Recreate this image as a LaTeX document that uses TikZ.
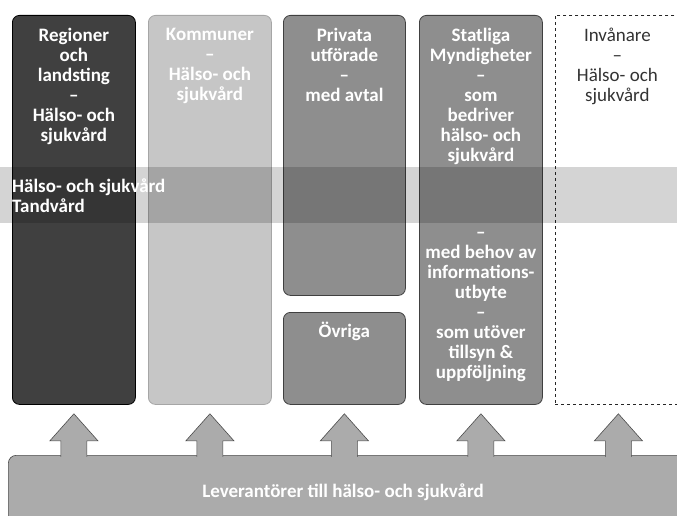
\documentclass[tikz,border=0pt]{standalone}
\usepackage{fontspec}
\setmainfont{Carlito}
\usetikzlibrary{calc}
\definecolor{darkcol}{HTML}{404040}
\definecolor{lightcol}{HTML}{C6C6C6}
\definecolor{midcol}{HTML}{8E8E8E}
\definecolor{barcol}{HTML}{ABABAB}
\begin{document}
\begin{tikzpicture}
    [x=1pt, y=-1pt,
    colbox/.style={rounded corners=7pt, line width=0.8pt, anchor=north west,
      inner sep=0pt, minimum width=123pt},
    coltext/.style={text=white, font=\bfseries\fontsize{19}{20}\selectfont,
      align=center, anchor=north, inner sep=0pt},
    invtext/.style={text=black!80, font=\fontsize{19}{20}\selectfont,
      align=center, anchor=north, inner sep=0pt},
    bandbox/.style={fill=black, fill opacity=0.17, anchor=north west,
      minimum width=677pt, minimum height=56pt, inner sep=0pt},
    uparrow/.style={fill=barcol, draw=black!70, line width=0.6pt}]
    \useasboundingbox (0,0) rectangle (677,516);
    \node[colbox, fill=darkcol, draw=black, minimum height=389pt] (reg) at (12,15) {};
    \node[colbox, fill=lightcol, draw=black!35, minimum height=389pt] (kom) at (148,15) {};
    \node[colbox, fill=midcol, draw=black!75, minimum width=122pt, minimum height=280pt] (priv) at (283,15) {};
    \node[colbox, fill=midcol, draw=black!75, minimum width=122pt, minimum height=92pt] (ovr) at (283,312) {};
    \node[colbox, fill=midcol, draw=black!75, minimum height=389pt] (stat) at (419,15) {};
    \node[draw=black!85, dashed, line width=0.8pt, anchor=north west, inner sep=0pt,
      minimum width=126pt, minimum height=389pt] (inv) at (555,15) {};
    \node[coltext] (regtext) at ($(reg.north)+(0,13)$) {Regioner\\och\\landsting\\--\\Hälso- och\\sjukvård};
    \node[coltext] (komtext) at ($(kom.north)+(0,13)$) {Kommuner\\--\\Hälso- och\\sjukvård};
    \node[coltext] (privtext) at ($(priv.north)+(0,13)$) {Privata\\utförade\\--\\med avtal};
    \node[coltext] (ovrtext) at ($(ovr.north)+(0,10)$) {Övriga};
    \node[coltext] (stattext) at ($(stat.north)+(0,13)$) {Statliga\\Myndigheter\\--\\som\\bedriver\\hälso- och\\sjukvård};
    \node[coltext] (stattext2) at ($(stat.north)+(0,217)$) {--\\med behov av\\informations-\\utbyte\\--\\som utöver\\tillsyn \&\\uppföljning};
    \node[invtext] (invtext) at ($(inv.north)+(-1,13)$) {Invånare\\--\\Hälso- och\\sjukvård};
    \node[bandbox] (band) at (0,167) {};
    \node[text=white, font=\bfseries\fontsize{19}{20}\selectfont, align=left,
      anchor=west, inner sep=0pt] (bandtext) at ($(band.west)+(12,0)$) {Hälso- och sjukvård\\Tandvård};
    \node[fill=barcol, draw=black!70, line width=0.6pt, rounded corners=8pt,
      anchor=north west, minimum width=690pt, minimum height=80pt] (lev) at (8,455) {};
    \node[text=white, font=\bfseries\fontsize{19}{20}\selectfont] (levtext) at (343,492)
      {Leverantörer till hälso- och sjukvård};
    \foreach \c in {reg,kom,ovr,stat,inv}{
      \path (\c.south) ++(0,9) coordinate (tip);
      \filldraw[uparrow] ($(tip)+(13,43)$) -- ($(tip)+(13,27)$) -- ($(tip)+(24,27)$)
        -- (tip) -- ($(tip)+(-24,27)$) -- ($(tip)+(-13,27)$) -- ($(tip)+(-13,43)$);
    }
\end{tikzpicture}
\end{document}
